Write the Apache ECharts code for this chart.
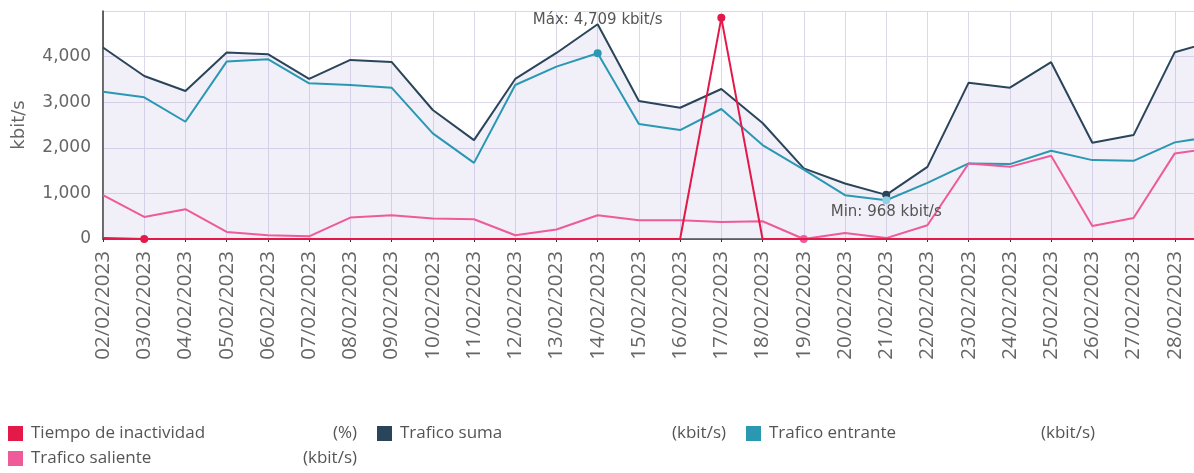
<!DOCTYPE html>
<html>
<head>
<meta charset="utf-8">
<script src="https://cdn.jsdelivr.net/npm/echarts@6/dist/echarts.min.js"></script>
<style>
  html, body { margin: 0; padding: 0; background: #fff; overflow: hidden; }
  #chart-container { width: 1194px; height: 473px; }
</style>
</head>
<body>
<div id="chart-container"></div>
<script>
// dates (the last one is cut off at the right edge of the picture)
var categories = [
  "02/02/2023", "03/02/2023", "04/02/2023", "05/02/2023", "06/02/2023", "07/02/2023",
  "08/02/2023", "09/02/2023", "10/02/2023", "11/02/2023", "12/02/2023", "13/02/2023",
  "14/02/2023", "15/02/2023", "16/02/2023", "17/02/2023", "18/02/2023", "19/02/2023",
  "20/02/2023", "21/02/2023", "22/02/2023", "23/02/2023", "24/02/2023", "25/02/2023",
  "26/02/2023", "27/02/2023", "28/02/2023", "01/03/2023"
];

var seriesNames = ["Tiempo de inactividad", "Trafico suma", "Trafico entrante", "Trafico saliente"];
var seriesUnits = ["(%)", "(kbit/s)", "(kbit/s)", "(kbit/s)"];

// %
var tiempoInactividad = [0.4, 0, 0, 0, 0, 0, 0, 0, 0, 0, 0, 0, 0, 0, 0, 97, 0, 0, 0, 0, 0, 0, 0, 0, 0, 0, 0, 0];
// kbit/s
var traficoSuma = [4200, 3575, 3246, 4088, 4052, 3510, 3927, 3884, 2829, 2169, 3510, 4080, 4709, 3026,
  2879, 3290, 2543, 1550, 1218, 968, 1582, 3429, 3319, 3877, 2110, 2279, 4097, 4350];
var traficoEntrante = [3231, 3108, 2571, 3890, 3943, 3415, 3378, 3319, 2316, 1670, 3378, 3780, 4075, 2521,
  2389, 2851, 2059, 1520, 960, 850, 1231, 1657, 1642, 1934, 1730, 1714, 2119, 2260];
var traficoSaliente = [960, 484, 653, 154, 81, 59, 470, 521, 448, 433, 81, 207, 521, 411,
  411, 374, 389, 0, 132, 20, 301, 1657, 1582, 1824, 286, 462, 1877, 2000];

var colors = ["#e3194a", "#2a4559", "#2a98b3", "#ee5b98"];

var dom = document.getElementById("chart-container");
var myChart = echarts.init(dom, null, { renderer: "canvas" });

function fmt(v) {
  return Number(v).toLocaleString("en-US");
}

var option = {
  animation: false,
  // the grid runs past the right edge, so the last day is cut off
  grid: { left: 103, right: -22, top: 11, bottom: 234, outerBoundsMode: "none", containLabel: false },
  legend: {
    left: 8,
    top: 425,
    padding: 0,
    itemWidth: 15,
    itemHeight: 15,
    itemGap: 8,
    icon: "rect",
    data: seriesNames,
    formatter: function (name) {
      var i = seriesNames.indexOf(name);
      return "{n|" + name + "}{u|" + seriesUnits[i] + "}";
    },
    textStyle: {
      fontFamily: "Open Sans",
      fontSize: 17,
      color: "#555",
      rich: {
        n: { width: 254, padding: [0, 0, 0, 3], fontFamily: "Open Sans", fontSize: 17, color: "#555", lineHeight: 20 },
        u: { width: 72, align: "right", padding: [0, 12, 0, 0], fontFamily: "Open Sans", fontSize: 17, color: "#555", lineHeight: 20 }
      }
    }
  },
  xAxis: {
    type: "category",
    data: categories,
    boundaryGap: false,
    offset: 6,
    axisLine: { lineStyle: { color: "#333", width: 1.5 } },
    axisTick: { show: true, length: 3, lineStyle: { color: "#333" } },
    axisLabel: { rotate: 90, margin: 6, fontFamily: "Open Sans", fontSize: 20.5, color: "#666" },
    splitLine: { show: true, lineStyle: { color: "#dcd8ea" } }
  },
  yAxis: [
    {
      type: "value",
      min: 0,
      max: 5000,
      interval: 1000,
      name: "kbit/s",
      nameLocation: "middle",
      nameGap: 75,
      nameTextStyle: { fontFamily: "DejaVu Sans", fontSize: 18, color: "#666" },
      axisLine: { show: true, lineStyle: { color: "#333", width: 1.5 } },
      axisTick: { show: false },
      axisLabel: {
        showMaxLabel: false,
        margin: 12,
        fontFamily: "DejaVu Sans",
        fontSize: 17,
        color: "#666",
        formatter: function (v) { return fmt(v); }
      },
      splitLine: { lineStyle: { color: "#dcd8ea" } }
    },
    { type: "value", min: 0, max: 100, show: false, splitLine: { show: false } }
  ],
  series: [
    {
      name: seriesNames[1],
      type: "line",
      data: traficoSuma,
      showSymbol: false,
      itemStyle: { color: colors[1] },
      lineStyle: { width: 2, color: colors[1] },
      areaStyle: { color: "rgba(190,180,222,0.3)" },
      z: 2,
      markPoint: {
        symbol: "circle",
        symbolSize: 8,
        itemStyle: { color: colors[1] },
        label: { fontFamily: "DejaVu Sans", fontSize: 15, color: "#555" },
        data: [
          { type: "max", symbolSize: 0, label: { show: true, position: "inside", offset: [0, -4],
            formatter: function (p) { return "Máx: " + fmt(p.value) + " kbit/s"; } } },
          { type: "min", label: { show: true, position: "inside", offset: [0, 17],
            formatter: function (p) { return "Min: " + fmt(p.value) + " kbit/s"; } } }
        ]
      }
    },
    {
      name: seriesNames[2],
      type: "line",
      data: traficoEntrante,
      showSymbol: false,
      itemStyle: { color: colors[2] },
      lineStyle: { width: 2, color: colors[2] },
      z: 3,
      markPoint: {
        symbol: "circle",
        symbolSize: 8,
        label: { show: false },
        data: [
          { type: "max", itemStyle: { color: colors[2] } },
          { type: "min", itemStyle: { color: "#8fd0e4" } }
        ]
      }
    },
    {
      name: seriesNames[3],
      type: "line",
      data: traficoSaliente,
      showSymbol: false,
      itemStyle: { color: colors[3] },
      lineStyle: { width: 2, color: colors[3] },
      z: 4,
      markPoint: {
        symbol: "circle",
        symbolSize: 8,
        label: { show: false },
        itemStyle: { color: colors[3] },
        data: [{ type: "min" }]
      }
    },
    {
      name: seriesNames[0],
      type: "line",
      yAxisIndex: 1,
      data: tiempoInactividad,
      showSymbol: false,
      itemStyle: { color: colors[0] },
      lineStyle: { width: 2, color: colors[0] },
      z: 5,
      markPoint: {
        symbol: "circle",
        symbolSize: 8,
        label: { show: false },
        itemStyle: { color: colors[0] },
        data: [{ type: "min" }, { type: "max" }]
      }
    }
  ]
};

myChart.setOption(option);
</script>
</body>
</html>
